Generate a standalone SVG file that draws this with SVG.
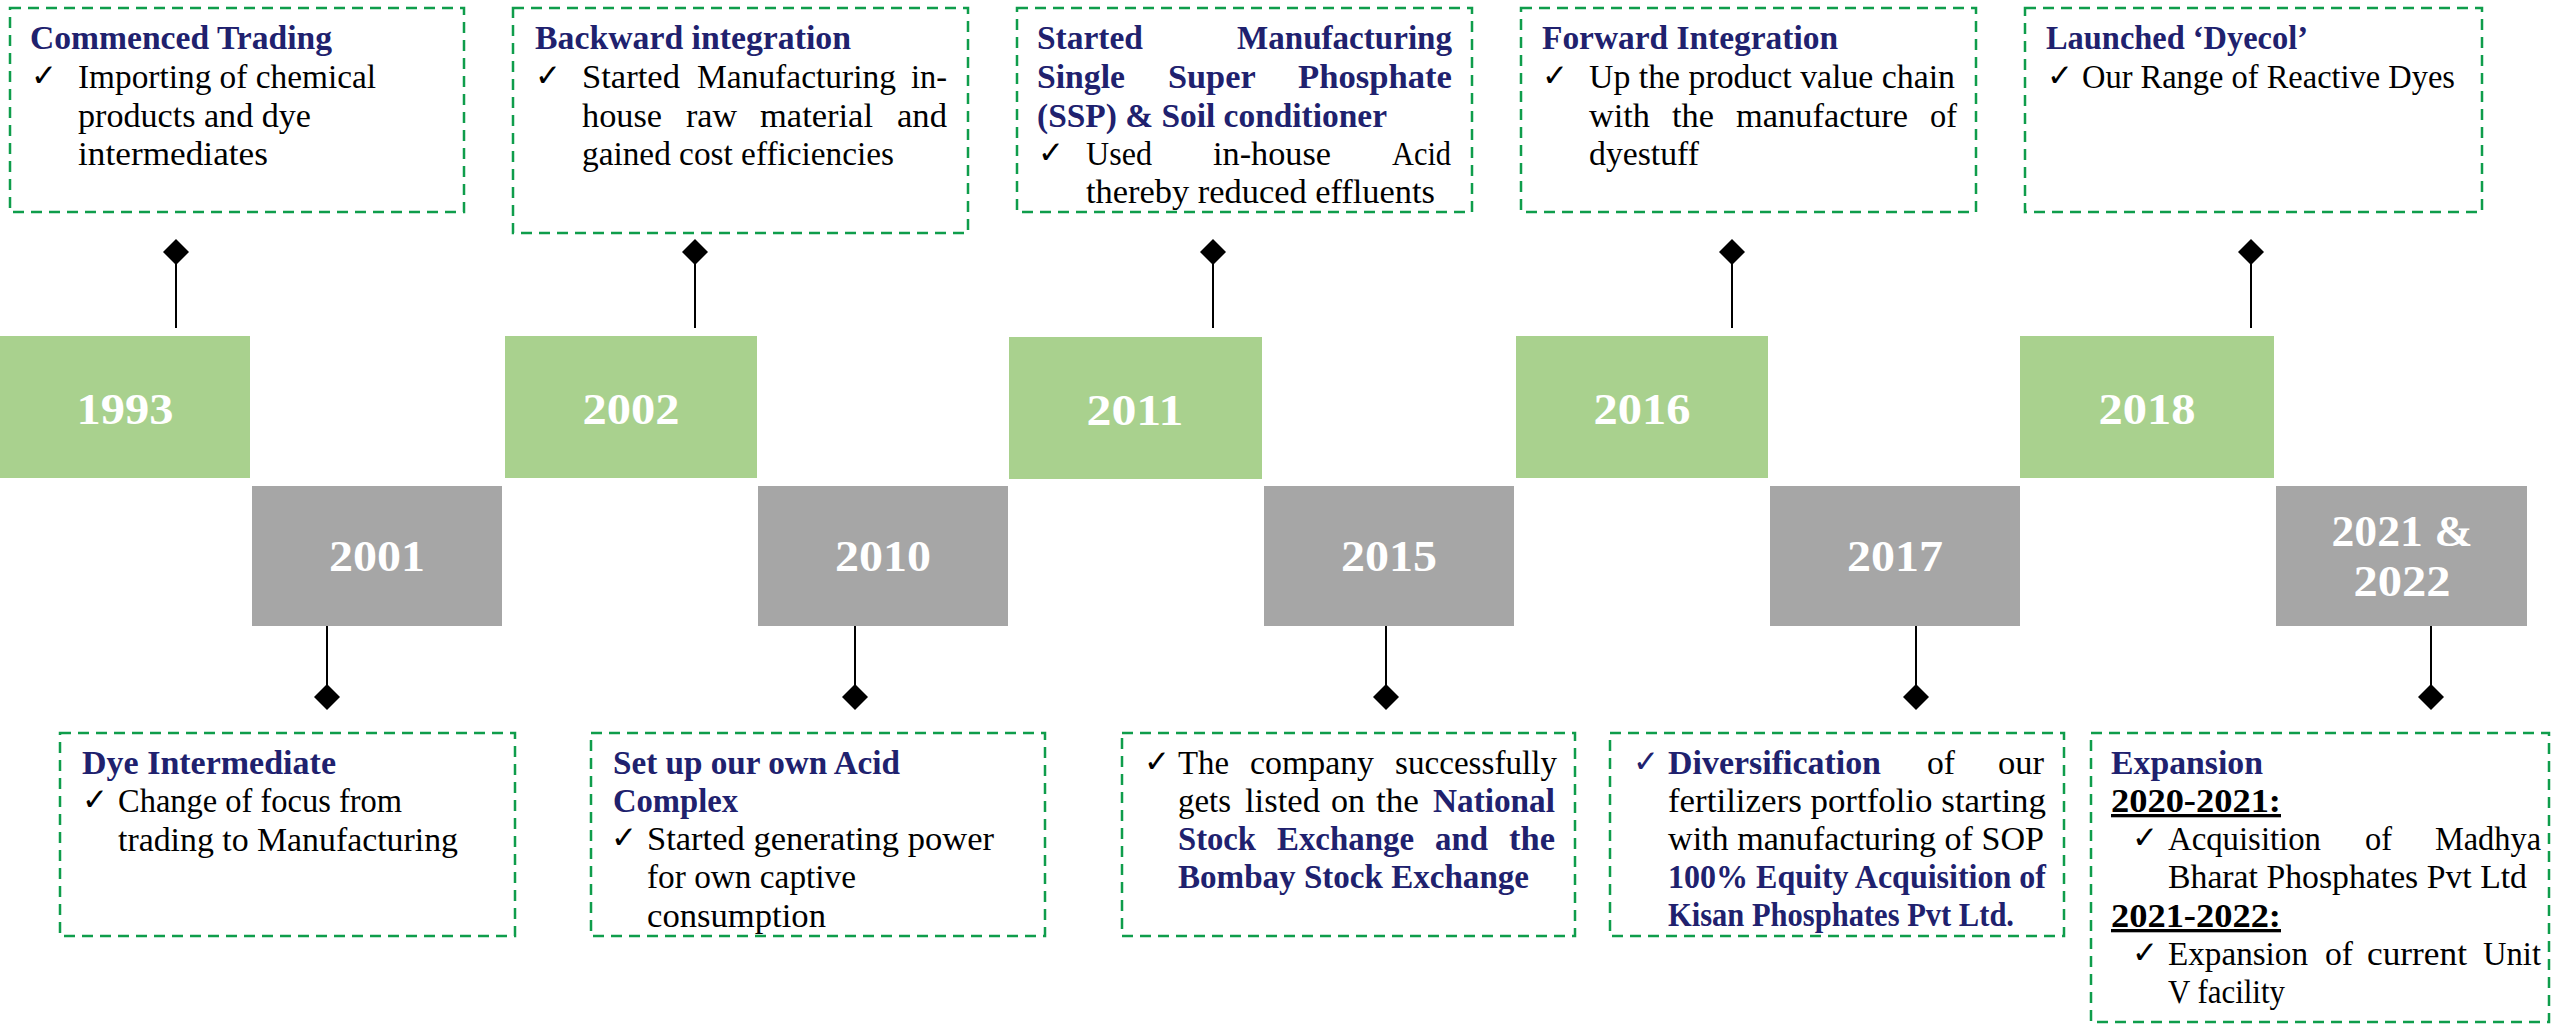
<svg xmlns="http://www.w3.org/2000/svg" width="2552" height="1025" viewBox="0 0 2552 1025">
<style>
.box{fill:none;stroke:#0F9D4B;stroke-width:2.5;stroke-dasharray:11 7}
.green{fill:#A9D18E}
.gray{fill:#A6A6A6}
.yr{font-family:"Liberation Serif",serif;font-weight:bold;font-size:44px;fill:#FFFFFF;text-anchor:middle}
.h{font-family:"Liberation Serif",serif;font-weight:bold;font-size:33px;fill:#20216E}
.t{font-family:"Liberation Serif",serif;font-size:33px;fill:#000000}
.b{font-weight:bold;fill:#20216E}
.u{font-family:"Liberation Serif",serif;font-size:33px;font-weight:bold;fill:#000000;text-decoration:underline}
.ck{font-family:"DejaVu Sans",sans-serif;font-size:31px;fill:#000000}
.ckn{font-family:"DejaVu Sans",sans-serif;font-size:31px;fill:#20216E}
.conn line{stroke:#000000;stroke-width:2}
</style>
<defs>
<marker id="dia" viewBox="-14 -14 28 28" markerWidth="28" markerHeight="28" markerUnits="userSpaceOnUse" refX="0" refY="0" orient="0">
<path d="M0,-13 L13,0 L0,13 L-13,0 Z" fill="#000000"/>
</marker>
</defs>

<g id="connectors" class="conn">
<line x1="176" y1="252" x2="176" y2="328" marker-start="url(#dia)"/>
<line x1="695" y1="252" x2="695" y2="328" marker-start="url(#dia)"/>
<line x1="1213" y1="252" x2="1213" y2="328" marker-start="url(#dia)"/>
<line x1="1732" y1="252" x2="1732" y2="328" marker-start="url(#dia)"/>
<line x1="2251" y1="252" x2="2251" y2="328" marker-start="url(#dia)"/>
<line x1="327" y1="622" x2="327" y2="697" marker-end="url(#dia)"/>
<line x1="855" y1="622" x2="855" y2="697" marker-end="url(#dia)"/>
<line x1="1386" y1="622" x2="1386" y2="697" marker-end="url(#dia)"/>
<line x1="1916" y1="622" x2="1916" y2="697" marker-end="url(#dia)"/>
<line x1="2431" y1="622" x2="2431" y2="697" marker-end="url(#dia)"/>
</g>

<g id="y1993"><rect class="green" x="0" y="336" width="250" height="142"/><text class="yr" x="125" y="424" textLength="97" lengthAdjust="spacingAndGlyphs">1993</text></g>
<g id="y2002"><rect class="green" x="505" y="336" width="252" height="142"/><text class="yr" x="631" y="424" textLength="97" lengthAdjust="spacingAndGlyphs">2002</text></g>
<g id="y2011"><rect class="green" x="1009" y="337" width="253" height="142"/><text class="yr" x="1135" y="425" textLength="97" lengthAdjust="spacingAndGlyphs">2011</text></g>
<g id="y2016"><rect class="green" x="1516" y="336" width="252" height="142"/><text class="yr" x="1642" y="424" textLength="97" lengthAdjust="spacingAndGlyphs">2016</text></g>
<g id="y2018"><rect class="green" x="2020" y="336" width="254" height="142"/><text class="yr" x="2147" y="424" textLength="97" lengthAdjust="spacingAndGlyphs">2018</text></g>

<g id="y2001"><rect class="gray" x="252" y="486" width="250" height="140"/><text class="yr" x="377" y="571" textLength="96" lengthAdjust="spacingAndGlyphs">2001</text></g>
<g id="y2010"><rect class="gray" x="758" y="486" width="250" height="140"/><text class="yr" x="883" y="571" textLength="96" lengthAdjust="spacingAndGlyphs">2010</text></g>
<g id="y2015"><rect class="gray" x="1264" y="486" width="250" height="140"/><text class="yr" x="1389" y="571" textLength="96" lengthAdjust="spacingAndGlyphs">2015</text></g>
<g id="y2017"><rect class="gray" x="1770" y="486" width="250" height="140"/><text class="yr" x="1895" y="571" textLength="96" lengthAdjust="spacingAndGlyphs">2017</text></g>
<g id="y2021"><rect class="gray" x="2276" y="486" width="251" height="140"/><text class="yr" x="2402" y="546" textLength="141" lengthAdjust="spacingAndGlyphs">2021 &amp;</text><text class="yr" x="2402" y="596" textLength="97" lengthAdjust="spacingAndGlyphs">2022</text></g>

<g id="note1993">
<rect class="box" x="10" y="8" width="454" height="204"/>
<text class="h" x="30" y="49" textLength="302" lengthAdjust="spacingAndGlyphs">Commenced Trading</text>
<text class="ck" x="31" y="86">✓</text>
<text class="t" x="78" y="88" textLength="298" lengthAdjust="spacingAndGlyphs">Importing of chemical</text>
<text class="t" x="78" y="127" textLength="233" lengthAdjust="spacingAndGlyphs">products and dye</text>
<text class="t" x="78" y="165" textLength="190" lengthAdjust="spacingAndGlyphs">intermediates</text>
</g>

<g id="note2002">
<rect class="box" x="513" y="8" width="455" height="225"/>
<text class="h" x="535" y="49" textLength="316" lengthAdjust="spacingAndGlyphs">Backward integration</text>
<text class="ck" x="535" y="86">✓</text>
<text class="t" y="88"><tspan x="582" textLength="98" lengthAdjust="spacingAndGlyphs">Started</tspan> <tspan x="697" textLength="199" lengthAdjust="spacingAndGlyphs">Manufacturing</tspan> <tspan x="911" textLength="36" lengthAdjust="spacingAndGlyphs">in-</tspan></text>
<text class="t" y="127"><tspan x="582" textLength="80" lengthAdjust="spacingAndGlyphs">house</tspan> <tspan x="686" textLength="51" lengthAdjust="spacingAndGlyphs">raw</tspan> <tspan x="760" textLength="113" lengthAdjust="spacingAndGlyphs">material</tspan> <tspan x="897" textLength="50" lengthAdjust="spacingAndGlyphs">and</tspan></text>
<text class="t" x="582" y="165" textLength="312" lengthAdjust="spacingAndGlyphs">gained cost efficiencies</text>
</g>

<g id="note2011">
<rect class="box" x="1017" y="8" width="455" height="204"/>
<text class="h" y="49"><tspan x="1037" textLength="106" lengthAdjust="spacingAndGlyphs">Started</tspan> <tspan x="1237" textLength="215" lengthAdjust="spacingAndGlyphs">Manufacturing</tspan></text>
<text class="h" y="88"><tspan x="1037" textLength="88" lengthAdjust="spacingAndGlyphs">Single</tspan> <tspan x="1168" textLength="87" lengthAdjust="spacingAndGlyphs">Super</tspan> <tspan x="1298" textLength="154" lengthAdjust="spacingAndGlyphs">Phosphate</tspan></text>
<text class="h" x="1037" y="127" textLength="350" lengthAdjust="spacingAndGlyphs">(SSP) &amp; Soil conditioner</text>
<text class="ck" x="1038" y="163">✓</text>
<text class="t" y="165"><tspan x="1086" textLength="66" lengthAdjust="spacingAndGlyphs">Used</tspan> <tspan x="1213" textLength="118" lengthAdjust="spacingAndGlyphs">in-house</tspan> <tspan x="1392" textLength="59" lengthAdjust="spacingAndGlyphs">Acid</tspan></text>
<text class="t" x="1086" y="203" textLength="349" lengthAdjust="spacingAndGlyphs">thereby reduced effluents</text>
</g>

<g id="note2016">
<rect class="box" x="1521" y="8" width="455" height="204"/>
<text class="h" x="1542" y="49" textLength="296" lengthAdjust="spacingAndGlyphs">Forward Integration</text>
<text class="ck" x="1542" y="86">✓</text>
<text class="t" x="1589" y="88" textLength="366" lengthAdjust="spacingAndGlyphs">Up the product value chain</text>
<text class="t" y="127"><tspan x="1589" textLength="61" lengthAdjust="spacingAndGlyphs">with</tspan> <tspan x="1672" textLength="42" lengthAdjust="spacingAndGlyphs">the</tspan> <tspan x="1736" textLength="172" lengthAdjust="spacingAndGlyphs">manufacture</tspan> <tspan x="1930" textLength="27" lengthAdjust="spacingAndGlyphs">of</tspan></text>
<text class="t" x="1589" y="165" textLength="110" lengthAdjust="spacingAndGlyphs">dyestuff</text>
</g>

<g id="note2018">
<rect class="box" x="2025" y="8" width="457" height="204"/>
<text class="h" x="2046" y="49" textLength="262" lengthAdjust="spacingAndGlyphs">Launched ‘Dyecol’</text>
<text class="ck" x="2047" y="86">✓</text>
<text class="t" x="2082" y="88" textLength="373" lengthAdjust="spacingAndGlyphs">Our Range of Reactive Dyes</text>
</g>

<g id="note2001">
<rect class="box" x="60" y="733" width="455" height="203"/>
<text class="h" x="82" y="774" textLength="254" lengthAdjust="spacingAndGlyphs">Dye Intermediate</text>
<text class="ck" x="82" y="810">✓</text>
<text class="t" x="118" y="812" textLength="284" lengthAdjust="spacingAndGlyphs">Change of focus from</text>
<text class="t" x="118" y="851" textLength="340" lengthAdjust="spacingAndGlyphs">trading to Manufacturing</text>
</g>

<g id="note2010">
<rect class="box" x="591" y="733" width="454" height="203"/>
<text class="h" x="613" y="774" textLength="287" lengthAdjust="spacingAndGlyphs">Set up our own Acid</text>
<text class="h" x="613" y="812" textLength="125" lengthAdjust="spacingAndGlyphs">Complex</text>
<text class="ck" x="611" y="848">✓</text>
<text class="t" x="647" y="850" textLength="347" lengthAdjust="spacingAndGlyphs">Started generating power</text>
<text class="t" x="647" y="888" textLength="209" lengthAdjust="spacingAndGlyphs">for own captive</text>
<text class="t" x="647" y="927" textLength="179" lengthAdjust="spacingAndGlyphs">consumption</text>
</g>

<g id="note2015">
<rect class="box" x="1122" y="733" width="453" height="203"/>
<text class="ck" x="1144" y="772">✓</text>
<text class="t" y="774"><tspan x="1178" textLength="51" lengthAdjust="spacingAndGlyphs">The</tspan> <tspan x="1250" textLength="124" lengthAdjust="spacingAndGlyphs">company</tspan> <tspan x="1395" textLength="162" lengthAdjust="spacingAndGlyphs">successfully</tspan></text>
<text class="t" y="812"><tspan x="1178" textLength="53" lengthAdjust="spacingAndGlyphs">gets</tspan> <tspan x="1245" textLength="75" lengthAdjust="spacingAndGlyphs">listed</tspan> <tspan x="1331" textLength="34" lengthAdjust="spacingAndGlyphs">on</tspan> <tspan x="1376" textLength="43" lengthAdjust="spacingAndGlyphs">the</tspan> <tspan class="b" x="1433" textLength="122" lengthAdjust="spacingAndGlyphs">National</tspan></text>
<text class="h" y="850"><tspan x="1178" textLength="78" lengthAdjust="spacingAndGlyphs">Stock</tspan> <tspan x="1277" textLength="137" lengthAdjust="spacingAndGlyphs">Exchange</tspan> <tspan x="1435" textLength="53" lengthAdjust="spacingAndGlyphs">and</tspan> <tspan x="1509" textLength="46" lengthAdjust="spacingAndGlyphs">the</tspan></text>
<text class="h" x="1178" y="888" textLength="351" lengthAdjust="spacingAndGlyphs">Bombay Stock Exchange</text>
</g>

<g id="note2017">
<rect class="box" x="1610" y="733" width="454" height="203"/>
<text class="ckn" x="1633" y="772">✓</text>
<text class="t" y="774"><tspan class="b" x="1668" textLength="213" lengthAdjust="spacingAndGlyphs">Diversification</tspan> <tspan x="1927" textLength="28" lengthAdjust="spacingAndGlyphs">of</tspan> <tspan x="1998" textLength="46" lengthAdjust="spacingAndGlyphs">our</tspan></text>
<text class="t" x="1668" y="812" textLength="378" lengthAdjust="spacingAndGlyphs">fertilizers portfolio starting</text>
<text class="t" x="1668" y="850" textLength="376" lengthAdjust="spacingAndGlyphs">with manufacturing of SOP</text>
<text class="h" x="1668" y="888" textLength="378" lengthAdjust="spacingAndGlyphs">100% Equity Acquisition of</text>
<text class="h" x="1668" y="926" textLength="346" lengthAdjust="spacingAndGlyphs">Kisan Phosphates Pvt Ltd.</text>
</g>

<g id="note2021">
<rect class="box" x="2091" y="733" width="458" height="289"/>
<text class="h" x="2111" y="774" textLength="152" lengthAdjust="spacingAndGlyphs">Expansion</text>
<text class="u" x="2111" y="812" textLength="170" lengthAdjust="spacingAndGlyphs">2020-2021:</text>
<text class="ck" x="2132" y="848">✓</text>
<text class="t" y="850"><tspan x="2168" textLength="153" lengthAdjust="spacingAndGlyphs">Acquisition</tspan> <tspan x="2365" textLength="27" lengthAdjust="spacingAndGlyphs">of</tspan> <tspan x="2435" textLength="106" lengthAdjust="spacingAndGlyphs">Madhya</tspan></text>
<text class="t" x="2168" y="888" textLength="359" lengthAdjust="spacingAndGlyphs">Bharat Phosphates Pvt Ltd</text>
<text class="u" x="2111" y="927" textLength="170" lengthAdjust="spacingAndGlyphs">2021-2022:</text>
<text class="ck" x="2132" y="963">✓</text>
<text class="t" y="965"><tspan x="2168" textLength="140" lengthAdjust="spacingAndGlyphs">Expansion</tspan> <tspan x="2325" textLength="28" lengthAdjust="spacingAndGlyphs">of</tspan> <tspan x="2367" textLength="100" lengthAdjust="spacingAndGlyphs">current</tspan> <tspan x="2483" textLength="58" lengthAdjust="spacingAndGlyphs">Unit</tspan></text>
<text class="t" x="2168" y="1003" textLength="117" lengthAdjust="spacingAndGlyphs">V facility</text>
</g>
</svg>
